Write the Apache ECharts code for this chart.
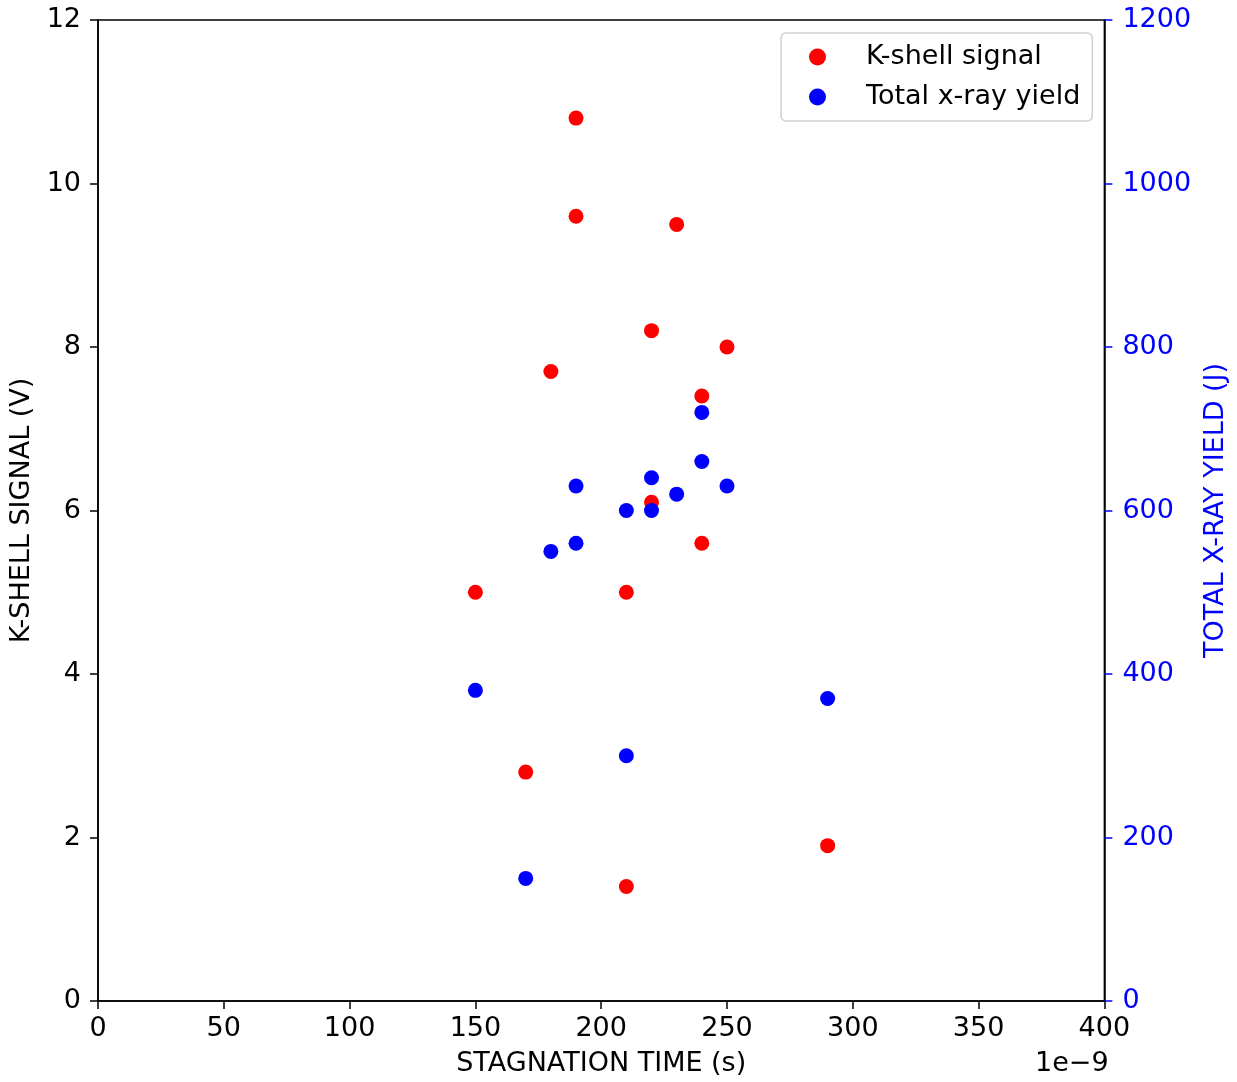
<!DOCTYPE html>
<html>
<head>
<meta charset="utf-8">
<script src="https://cdn.jsdelivr.net/npm/echarts@6/dist/echarts.min.js"></script>
<style>
html,body{margin:0;padding:0;background:#fff;}
#main{width:1237px;height:1082px;}
</style>
</head>
<body>
<div id="main"></div>
<script>
// Stagnation time (ns, axis shown with 1e-9 offset)
const kShellTime   = [190, 190, 230, 220, 250, 180, 240, 220, 240, 150, 210, 170, 290, 210];
const kShellSignal = [10.8, 9.6, 9.5, 8.2, 8.0, 7.7, 7.4, 6.1, 5.6, 5.0, 5.0, 2.8, 1.9, 1.4];
const yieldTime    = [240, 240, 220, 190, 250, 230, 210, 220, 190, 180, 150, 290, 210, 170];
const yieldValue   = [720, 660, 640, 630, 630, 620, 600, 600, 560, 550, 380, 370, 300, 150];
const seriesNames  = ['K-shell signal', 'Total x-ray yield'];

const FONT = 'DejaVu Sans';
const FS = 27;
const chart = echarts.init(document.getElementById('main'), null, {renderer: 'canvas'});

const kData = kShellTime.map((t, i) => [t, kShellSignal[i]]);
const yData = yieldTime.map((t, i) => [t, yieldValue[i]]);

chart.setOption({
  animation: false,
  backgroundColor: '#fff',
  textStyle: {fontFamily: FONT},
  grid: {left: 98, right: 128, top: 20, bottom: 77, show: true, borderColor: '#000', borderWidth: 1.5, backgroundColor: 'transparent'},
  legend: {
    orient: 'vertical',
    left: 781, top: 33,
    data: seriesNames,
    icon: 'circle',
    itemWidth: 17, itemHeight: 17,
    itemGap: 10,
    padding: [9, 12, 9, 28],
    backgroundColor: '#fff',
    borderColor: '#d0d0d0', borderWidth: 1.5, borderRadius: 5,
    textStyle: {fontFamily: FONT, fontSize: FS, color: '#000', lineHeight: 30, padding: [0, 0, 0, 35]}
  },
  xAxis: {
    type: 'value', min: 0, max: 400, interval: 50,
    name: 'STAGNATION TIME (s)', nameLocation: 'middle', nameGap: 49,
    nameTextStyle: {fontFamily: FONT, fontSize: FS, color: '#000'},
    axisLine: {show: true, onZero: false, lineStyle: {color: '#000', width: 1.5}},
    axisTick: {show: true, inside: false, length: 8, lineStyle: {color: '#000', width: 1.5}},
    axisLabel: {fontFamily: FONT, fontSize: FS, color: '#000', margin: 14},
    splitLine: {show: false}
  },
  yAxis: [
    {
      type: 'value', position: 'left', min: 0, max: 12, interval: 2,
      name: 'K-SHELL SIGNAL (V)', nameLocation: 'middle', nameGap: 59, nameRotate: 90,
      nameTextStyle: {fontFamily: FONT, fontSize: FS, color: '#000'},
      axisLine: {show: true, lineStyle: {color: '#000', width: 1.5}},
      axisTick: {show: true, inside: false, length: 8, lineStyle: {color: '#000', width: 1.5}},
      axisLabel: {fontFamily: FONT, fontSize: FS, color: '#000', margin: 17},
      splitLine: {show: false}
    },
    {
      type: 'value', position: 'right', min: 0, max: 1200, interval: 200,
      name: 'TOTAL X-RAY YIELD (J)', nameLocation: 'middle', nameGap: 92, nameRotate: 90,
      nameTextStyle: {fontFamily: FONT, fontSize: FS, color: '#0000ff'},
      axisLine: {show: true, lineStyle: {color: '#000', width: 1.5}},
      axisTick: {show: true, inside: false, length: 8, lineStyle: {color: '#0000ff', width: 1.5}},
      axisLabel: {fontFamily: FONT, fontSize: FS, color: '#0000ff', margin: 18, formatter: v => String(v)},
      splitLine: {show: false}
    }
  ],
  series: [
    {
      name: seriesNames[0], type: 'scatter', yAxisIndex: 0,
      data: kData, symbolSize: 15,
      itemStyle: {color: '#ff0000', opacity: 1}
    },
    {
      name: seriesNames[1], type: 'scatter', yAxisIndex: 1,
      data: yData, symbolSize: 15,
      itemStyle: {color: '#0000ff', opacity: 1}
    }
  ],
  graphic: [
    {type: 'text', left: 1035, top: 1050, style: {text: '1e\u22129', fontFamily: FONT, fontSize: FS, fill: '#000'}}
  ]
});
</script>
</body>
</html>
